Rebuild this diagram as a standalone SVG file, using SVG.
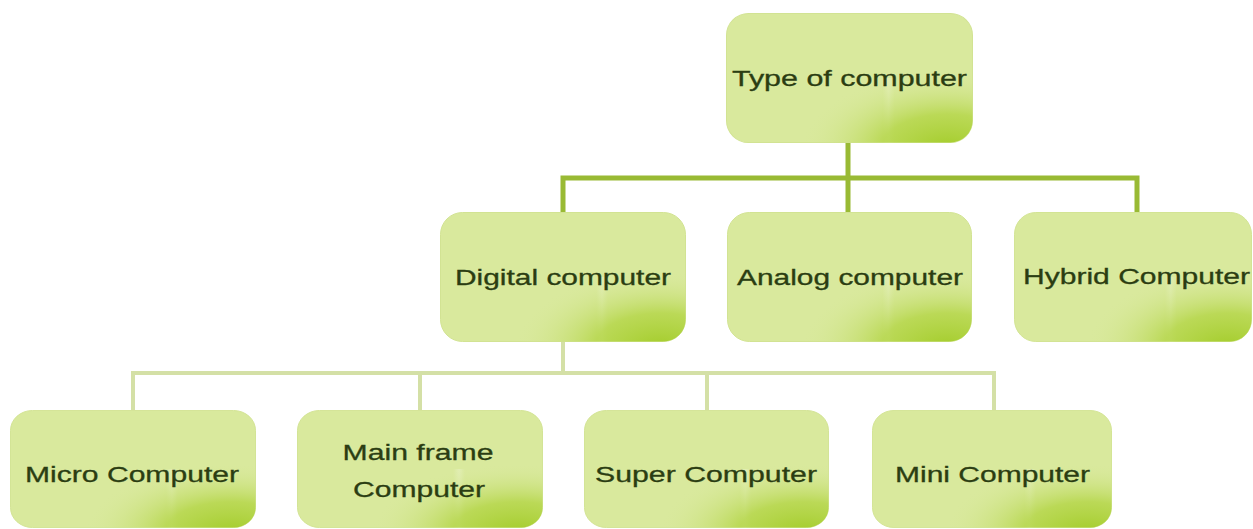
<svg xmlns="http://www.w3.org/2000/svg" width="1253" height="529" viewBox="0 0 1253 529">
<style>
.box{fill:#d9e99d;stroke:#d2e393;stroke-width:1}
.glow{fill:url(#corner)}
.band{fill:url(#band)}
.lbl{font-family:"Liberation Sans",Arial,sans-serif;font-size:22px;fill:#2b3d12;text-anchor:middle;stroke:#2b3d12;stroke-width:0.3}
.c1{stroke:#99ba34;stroke-width:5;fill:none}
.c2{stroke:#d4e0a6;stroke-width:4;fill:none}
</style>
<defs>
<radialGradient id="corner" cx="0.9" cy="1.05" r="0.6" fx="0.9" fy="1.05">
<stop offset="0" stop-color="#a3cc2a" stop-opacity="1"/>
<stop offset="0.45" stop-color="#b3d545" stop-opacity="0.8"/>
<stop offset="1" stop-color="#d9e99d" stop-opacity="0"/>
</radialGradient>
<linearGradient id="band" x1="0" y1="0" x2="1" y2="0">
<stop offset="0.56" stop-color="#ffffff" stop-opacity="0"/>
<stop offset="0.62" stop-color="#ffffff" stop-opacity="0.22"/>
<stop offset="0.68" stop-color="#ffffff" stop-opacity="0"/>
</linearGradient>
<symbol id="node" viewBox="0 0 246 130" preserveAspectRatio="none">
<rect class="box" x="0.5" y="0.5" width="245" height="129" rx="22"/>
<rect class="band" x="100" y="65" width="100" height="64.5"/>
<rect class="glow" x="0.5" y="0.5" width="245" height="129" rx="22"/>
</symbol>
</defs>
<rect width="1253" height="529" fill="#ffffff"/>
<g id="connectors">
<path class="c1" d="M848 143V212M563 212V178H1137V212"/>
<path class="c2" d="M563 342V373M133 410V373H994V410M420 373V410M707 373V410"/>
</g>
<g id="n-type"><use href="#node" x="726" y="13" width="247" height="130"/><text class="lbl" x="849.5" y="86" textLength="235" lengthAdjust="spacingAndGlyphs">Type of computer</text></g>
<g id="n-digital"><use href="#node" x="440" y="212" width="246" height="130"/><text class="lbl" x="563" y="285" textLength="216" lengthAdjust="spacingAndGlyphs">Digital computer</text></g>
<g id="n-analog"><use href="#node" x="727" y="212" width="245" height="130"/><text class="lbl" x="850" y="285" textLength="226" lengthAdjust="spacingAndGlyphs">Analog computer</text></g>
<g id="n-hybrid"><use href="#node" x="1014" y="212" width="238" height="130"/><text class="lbl" x="1136.5" y="284" textLength="227" lengthAdjust="spacingAndGlyphs">Hybrid Computer</text></g>
<g id="n-micro"><use href="#node" x="10" y="410" width="246" height="118"/><text class="lbl" x="132" y="482" textLength="214" lengthAdjust="spacingAndGlyphs">Micro Computer</text></g>
<g id="n-mainframe"><use href="#node" x="297" y="410" width="246" height="118"/><text class="lbl" x="418" y="460" textLength="151" lengthAdjust="spacingAndGlyphs">Main frame</text><text class="lbl" x="419" y="497" textLength="132" lengthAdjust="spacingAndGlyphs">Computer</text></g>
<g id="n-super"><use href="#node" x="584" y="410" width="245" height="118"/><text class="lbl" x="706" y="482" textLength="222" lengthAdjust="spacingAndGlyphs">Super Computer</text></g>
<g id="n-mini"><use href="#node" x="872" y="410" width="240" height="118"/><text class="lbl" x="992.5" y="482" textLength="195" lengthAdjust="spacingAndGlyphs">Mini Computer</text></g>
</svg>
